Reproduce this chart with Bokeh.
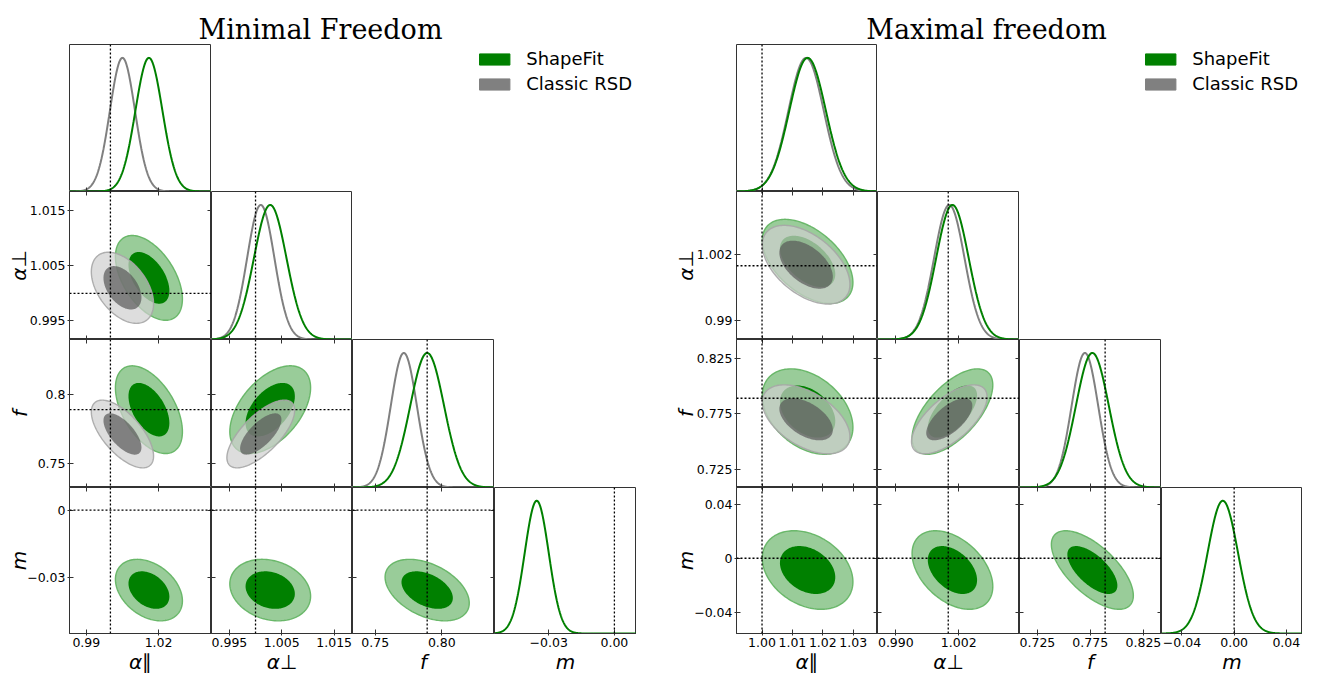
import numpy as np
from bokeh.plotting import figure
from bokeh.models import (Range1d, LinearAxis, FixedTicker, Span, Legend, LegendItem,
                          Label, Spacer, CustomJSTickFormatter)
from bokeh.layouts import row, column
from bokeh.embed import file_html
from bokeh.resources import INLINE

# ---------------- data ----------------
param_labels = ["α∥", "α⊥", "f", "m"]
fiducial = [1.0, 1.0, 0.789, 0.0]
series_names = ["ShapeFit", "Classic RSD"]

# Minimal Freedom
min_title = "Minimal Freedom"
min_ranges = [[0.983, 1.042], [0.9916, 1.0185], [0.733, 0.8395], [-0.0548, 0.0101]]
min_ticks = [[0.99, 1.02], [0.995, 1.005, 1.015], [0.75, 0.80], [-0.03, 0.0]]
min_xtick_labels = [["0.99", "1.02"], ["0.995", "1.005", "1.015"], ["0.75", "0.80"], ["−0.03", "0.00"]]
min_ytick_labels = [["0.99", "1.02"], ["0.995", "1.005", "1.015"], ["0.75", "0.8"], ["−0.03", "0"]]
min_sf_mean = [1.016, 1.0028, 0.789, -0.0355]
min_sf_sigma = [0.0056, 0.0031, 0.0127, 0.0055]
min_sf_corr = [[1.0, -0.5, -0.5, -0.35],
               [-0.5, 1.0, 0.5, -0.2],
               [-0.5, 0.5, 1.0, -0.42],
               [-0.35, -0.2, -0.42, 1.0]]
min_rsd_mean = [1.005, 1.0010, 0.7715]
min_rsd_sigma = [0.0052, 0.0026, 0.0098]
min_rsd_corr = [[1.0, -0.45, -0.65],
                [-0.45, 1.0, 0.7],
                [-0.65, 0.7, 1.0]]

# Maximal freedom
max_title = "Maximal freedom"
max_ranges = [[0.9916, 1.038], [0.9865, 1.0136], [0.7085, 0.842], [-0.0557, 0.0524]]
max_ticks = [[1.00, 1.01, 1.02, 1.03], [0.990, 1.002], [0.725, 0.775, 0.825], [-0.04, 0.0, 0.04]]
max_xtick_labels = [["1.00", "1.01", "1.02", "1.03"], ["0.990", "1.002"],
                    ["0.725", "0.775", "0.825"], ["−0.04", "0.00", "0.04"]]
max_ytick_labels = [["1.00", "1.01", "1.02", "1.03"], ["0.99", "1.002"],
                    ["0.725", "0.775", "0.825"], ["−0.04", "0", "0.04"]]
max_sf_mean = [1.015, 1.0008, 0.777, -0.0087]
max_sf_sigma = [0.0060, 0.0031, 0.0155, 0.0117]
max_sf_corr = [[1.0, -0.5, -0.37, -0.3],
               [-0.5, 1.0, 0.62, -0.42],
               [-0.37, 0.62, 1.0, -0.65],
               [-0.3, -0.42, -0.65, 1.0]]
max_rsd_mean = [1.0145, 1.0002, 0.770]
max_rsd_sigma = [0.0058, 0.0029, 0.0125]
max_rsd_corr = [[1.0, -0.5, -0.5],
                [-0.5, 1.0, 0.65],
                [-0.5, 0.65, 1.0]]

# ---------------- layout / style ----------------
ROW_H = [147, 148, 148, 147]
LEFT_COL_W = [142, 141, 142, 142]
RIGHT_COL_W = [141, 142, 142, 141]
BL, BB, TH = 69, 42, 44
GAP = 31
FRAME = "#333333"
TICK_FONT = "12.5px"
LABEL_FONT = "20px"
YLABEL_SHIFT = -7
K68, K95 = 2.30, 6.18

styles = {
    "ShapeFit": dict(outer_fill="#99cc99", outer_alpha=1.0, outer_line="#5fb35f",
                     inner_fill="#008000", inner_alpha=1.0, line="#008000"),
    "Classic RSD": dict(outer_fill="#cfcfcf", outer_alpha=0.7, outer_line="#a6a6a6",
                        inner_fill="#585858", inner_alpha=0.7, line="#808080"),
}
legend_colors = {"ShapeFit": "#008000", "Classic RSD": "#808080"}


def text_w(s, fs):
    w = 0.0
    for c in s:
        if c.isdigit():
            w += 0.636
        elif c == ".":
            w += 0.318
        else:
            w += 0.838
    return w * fs


def ellipse(mx, my, sx, sy, rho, k, n=160):
    t = np.linspace(0, 2 * np.pi, n)
    r = np.sqrt(k)
    u, v = r * np.cos(t), r * np.sin(t)
    return mx + sx * u, my + sy * (rho * u + np.sqrt(1 - rho ** 2) * v)


def make_axis(tv, tl, show, tick_in, tick_out, label=None, label_standoff=0):
    ax = LinearAxis(ticker=FixedTicker(ticks=tv),
                    major_tick_in=tick_in, major_tick_out=tick_out,
                    minor_tick_line_color=None, minor_tick_in=0, minor_tick_out=0,
                    axis_line_color=FRAME,
                    major_tick_line_color=FRAME, major_tick_line_width=1)
    if show:
        ax.formatter = CustomJSTickFormatter(args=dict(tv=tv, tl=tl), code="""
            for (let k = 0; k < tv.length; k++) { if (Math.abs(tv[k] - tick) < 1e-9) return tl[k]; }
            return "";""")
        ax.major_label_text_font = "DejaVu Sans"
        ax.major_label_text_font_size = TICK_FONT
        ax.major_label_text_color = "black"
        ax.major_label_standoff = 2
    else:
        ax.major_label_text_font_size = "0px"
        ax.major_label_text_color = None
        ax.major_label_text_alpha = 0
        ax.major_label_standoff = 0
    if label:
        ax.axis_label = label
        ax.axis_label_text_font = "DejaVu Sans"
        ax.axis_label_text_font_style = "italic"
        ax.axis_label_text_font_size = LABEL_FONT
        ax.axis_label_text_color = "black"
        ax.axis_label_standoff = label_standoff
    return ax


def build_corner(title, title_x, col_w, ranges, ticks, xlabs, ylabs,
                 sf_mean, sf_sigma, sf_corr, rsd_mean, rsd_sigma, rsd_corr):
    n = 4
    series = [("ShapeFit", sf_mean, sf_sigma, sf_corr),
              ("Classic RSD", rsd_mean, rsd_sigma, rsd_corr)]
    W = BL + sum(col_w)
    tf = figure(width=W, height=TH, x_range=Range1d(0, W), y_range=Range1d(0, TH),
                min_border=0, toolbar_location=None, output_backend="svg",
                x_axis_location=None, y_axis_location=None, outline_line_color=None)
    tf.grid.visible = False
    tf.add_layout(Label(x=title_x, y=15, text=title, text_align="center",
                        text_baseline="alphabetic", text_font="DejaVu Serif",
                        text_font_size="27px", text_color="black"))

    yw = [max(text_w(s, 12.5) for s in ylabs[i]) for i in range(n)]
    maxw = max(yw[1:])
    rows = [tf]
    for i in range(n):
        figs = []
        for j in range(i + 1):
            bl = BL if j == 0 else 0
            bb = BB if i == n - 1 else 0
            diag = (i == j)
            yr = Range1d(0, 1.1) if diag else Range1d(*ranges[i])
            p = figure(width=bl + col_w[j], height=ROW_H[i] + bb,
                       x_range=Range1d(*ranges[j]), y_range=yr,
                       min_border_left=bl, min_border_right=0, min_border_top=0,
                       min_border_bottom=bb, toolbar_location=None, output_backend="svg",
                       x_axis_location=None, y_axis_location=None,
                       outline_line_color=FRAME, outline_line_width=1,
                       background_fill_color="white", border_fill_color="white")
            p.grid.visible = False
            last = (i == n - 1)
            p.add_layout(make_axis(ticks[j], xlabs[j], last, 4, 2 if last else 0,
                                   param_labels[j] if last else None, 0), "below")
            if not diag:
                first = (j == 0)
                p.add_layout(make_axis(ticks[i], ylabs[i], first, 4, 2 if first else 0,
                                       param_labels[i] if first else None,
                                       int(round(maxw - yw[i])) + YLABEL_SHIFT), "left")
                p.add_layout(make_axis(ticks[j], xlabs[j], False, 4, 0), "above")
                p.add_layout(make_axis(ticks[i], ylabs[i], False, 4, 0), "right")
                for name, mean, sig, corr in series:
                    if i >= len(mean) or j >= len(mean):
                        continue
                    st = styles[name]
                    ox, oy = ellipse(mean[j], mean[i], sig[j], sig[i], corr[i][j], K95)
                    p.patch(ox, oy, fill_color=st["outer_fill"], fill_alpha=st["outer_alpha"],
                            line_color=st["outer_line"], line_width=1.4, line_alpha=0.9)
                    ix, iy = ellipse(mean[j], mean[i], sig[j], sig[i], corr[i][j], K68)
                    p.patch(ix, iy, fill_color=st["inner_fill"], fill_alpha=st["inner_alpha"],
                            line_color=None)
                p.add_layout(Span(location=fiducial[i], dimension="width", line_color="black",
                                  line_dash="2 2", line_width=1.3))
            else:
                x = np.linspace(ranges[j][0], ranges[j][1], 400)
                for name, mean, sig, corr in reversed(series):
                    if j >= len(mean):
                        continue
                    y = np.exp(-0.5 * ((x - mean[j]) / sig[j]) ** 2)
                    p.line(x, y, line_color=styles[name]["line"], line_width=2)
            p.add_layout(Span(location=fiducial[j], dimension="height", line_color="black",
                              line_dash="2 2", line_width=1.3))
            figs.append(p)
        if i == 0:
            lf = figure(width=sum(col_w[1:]), height=ROW_H[0], x_range=Range1d(0, 1),
                        y_range=Range1d(0, 1), min_border=0, toolbar_location=None,
                        output_backend="svg", x_axis_location=None, y_axis_location=None,
                        outline_line_color=None)
            lf.grid.visible = False
            items = []
            for name in series_names:
                # legend-only swatch: its data lies outside the visible range
                r = lf.quad(left=[2.0], right=[3.0], top=[3.0], bottom=[2.0],
                            fill_color=legend_colors[name], line_color=legend_colors[name])
                items.append(LegendItem(label=name, renderers=[r]))
            leg = Legend(items=items, location="top_right", margin=4, padding=0, spacing=4,
                         glyph_width=38, glyph_height=14, label_standoff=13,
                         label_text_font="DejaVu Sans", label_text_font_size="18px",
                         label_text_color="black", border_line_color=None,
                         background_fill_alpha=0)
            lf.add_layout(leg)
            figs.append(lf)
        rows.append(row(*figs))
    return column(*rows)


left = build_corner(min_title, 320, LEFT_COL_W, min_ranges, min_ticks, min_xtick_labels,
                    min_ytick_labels, min_sf_mean, min_sf_sigma, min_sf_corr,
                    min_rsd_mean, min_rsd_sigma, min_rsd_corr)
right = build_corner(max_title, 319, RIGHT_COL_W, max_ranges, max_ticks, max_xtick_labels,
                     max_ytick_labels, max_sf_mean, max_sf_sigma, max_sf_corr,
                     max_rsd_mean, max_rsd_sigma, max_rsd_corr)

page = row(left, Spacer(width=GAP, height=10), right)
open("out.html", "w").write(file_html(page, INLINE, title="corner plots"))
